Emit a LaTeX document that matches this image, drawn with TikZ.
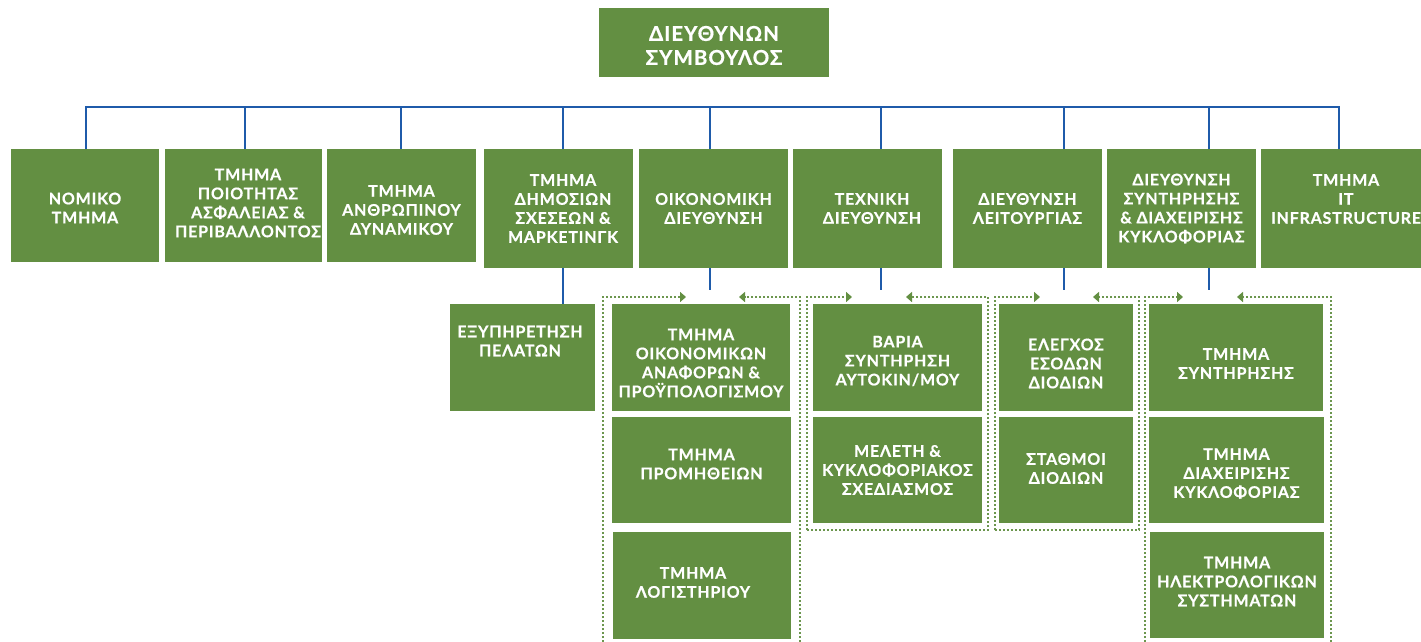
\documentclass[tikz,border=0pt]{standalone}
\usepackage{fontspec}
\setmainfont{Lato}[LetterSpace=5, BoldFeatures={FakeBold=0.6}]
\usetikzlibrary{arrows.meta}
\definecolor{boxgreen}{RGB}{99,143,66}
\definecolor{dotgreen}{RGB}{108,150,78}
\definecolor{lineblue}{RGB}{31,91,170}
% name, x1, y1, x2, y2, dx, dy, text
\newcommand\gbx[8]{%
  \node[gbox, minimum width={(#4-#2)*1pt}, minimum height={(#5-#3)*1pt}] (#1) at ({(#2+#4)/2},{(#3+#5)/2}) {};
  \node[gtxt] at ([xshift={(#6)*1pt}, yshift={(#7)*(-1pt)}]#1.center) {#8};}
\tikzset{
  gbox/.style={fill=boxgreen, draw=none, inner sep=0pt, outer sep=0pt},
  gtxt/.style={text=white, align=center, inner sep=0pt, font=\bfseries\fontsize{16}{19}\selectfont},
  bigtxt/.style={gtxt, font=\bfseries\fontsize{20.5}{24}\selectfont},
  conn/.style={draw=lineblue, line width=2pt},
  dotline/.style={draw=dotgreen, line width=2pt, dash pattern=on 2pt off 2pt},
  dotarrow/.style={dotline, -{Triangle[length=6pt,width=10pt,fill=boxgreen,color=boxgreen]}},
}
\begin{document}
\begin{tikzpicture}[x=1pt,y=-1pt]
\useasboundingbox (0,0) rectangle (1421,642);
\fill[white] (0,0) rectangle (1421,642);

% CEO
\node[gbox, minimum width=230pt, minimum height=69pt] (ceo) at (714,42.5) {};
\node[bigtxt] at ([yshift=-3pt]ceo.center) {ΔΙΕΥΘΥΝΩΝ\\ΣΥΜΒΟΥΛΟΣ};

% Row 1
\gbx{b1}{11}{149}{159}{262}{0}{2.5}{ΝΟΜΙΚΟ\\ΤΜΗΜΑ}
\gbx{b2}{165}{149}{322}{262}{4.5}{-2.5}{ΤΜΗΜΑ\\ΠΟΙΟΤΗΤΑΣ\\ΑΣΦΑΛΕΙΑΣ \&\\ΠΕΡΙΒΑΛΛΟΝΤΟΣ}
\gbx{b3}{327}{149}{476}{262}{0}{4.5}{ΤΜΗΜΑ\\ΑΝΘΡΩΠΙΝΟΥ\\ΔΥΝΑΜΙΚΟΥ}
\gbx{b4}{484}{149}{633}{268}{4.5}{0}{ΤΜΗΜΑ\\ΔΗΜΟΣΙΩΝ\\ΣΧΕΣΕΩΝ \&\\ΜΑΡΚΕΤΙΝΓΚ}
\gbx{b5}{639}{149}{788}{268}{0}{0}{ΟΙΚΟΝΟΜΙΚΗ\\ΔΙΕΥΘΥΝΣΗ}
\gbx{b6}{793}{149}{942}{268}{4.5}{0}{ΤΕΧΝΙΚΗ\\ΔΙΕΥΘΥΝΣΗ}
\gbx{b7}{953}{149}{1102}{268}{0}{0}{ΔΙΕΥΘΥΝΣΗ\\ΛΕΙΤΟΥΡΓΙΑΣ}
\gbx{b8}{1107}{149}{1256}{268}{0}{0}{ΔΙΕΥΘΥΝΣΗ\\ΣΥΝΤΗΡΗΣΗΣ\\\& ΔΙΑΧΕΙΡΙΣΗΣ\\ΚΥΚΛΟΦΟΡΙΑΣ}
\gbx{b9}{1261}{149}{1431}{268}{0}{-9.5}{ΤΜΗΜΑ\\IT\\INFRASTRUCTURE}

% Row 2
\gbx{exy}{450}{304}{595}{411}{-2.5}{-16.5}{ΕΞΥΠΗΡΕΤΗΣΗ\\ΠΕΛΑΤΩΝ}
\gbx{f1}{612}{304}{790}{411}{0}{5.5}{ΤΜΗΜΑ\\ΟΙΚΟΝΟΜΙΚΩΝ\\ΑΝΑΦΟΡΩΝ \&\\ΠΡΟΫΠΟΛΟΓΙΣΜΟΥ}
\gbx{f2}{612}{417}{791}{523}{0}{-6}{ΤΜΗΜΑ\\ΠΡΟΜΗΘΕΙΩΝ}
\gbx{f3}{613}{532}{791}{639}{-9}{-3}{ΤΜΗΜΑ\\ΛΟΓΙΣΤΗΡΙΟΥ}
\gbx{t1}{813}{304}{982}{411}{0}{3.5}{ΒΑΡΙΑ\\ΣΥΝΤΗΡΗΣΗ\\ΑΥΤΟΚΙΝ/ΜΟΥ}
\gbx{t2}{813}{417}{982}{523}{0}{0}{ΜΕΛΕΤΗ \&\\ΚΥΚΛΟΦΟΡΙΑΚΟΣ\\ΣΧΕΔΙΑΣΜΟΣ}
\gbx{l1}{999}{304}{1133}{411}{0}{6}{ΕΛΕΓΧΟΣ\\ΕΣΟΔΩΝ\\ΔΙΟΔΙΩΝ}
\gbx{l2}{999}{417}{1133}{523}{0}{-1.5}{ΣΤΑΘΜΟΙ\\ΔΙΟΔΙΩΝ}
\gbx{s1}{1149}{304}{1323}{411}{0}{6}{ΤΜΗΜΑ\\ΣΥΝΤΗΡΗΣΗΣ}
\gbx{s2}{1149}{417}{1324}{523}{0}{3.5}{ΤΜΗΜΑ\\ΔΙΑΧΕΙΡΙΣΗΣ\\ΚΥΚΛΟΦΟΡΙΑΣ}
\gbx{s3}{1150}{532}{1324}{638}{0}{-3.5}{ΤΜΗΜΑ\\ΗΛΕΚΤΡΟΛΟΓΙΚΩΝ\\ΣΥΣΤΗΜΑΤΩΝ}

% Blue connectors
\coordinate (bar) at (0,107);
\coordinate (p1) at ([xshift=1pt]b1.north);
\coordinate (p2) at ([xshift=1.5pt]b2.north);
\coordinate (p3) at ([xshift=-0.5pt]b3.north);
\coordinate (p4) at ([xshift=4.5pt]b4.north);
\coordinate (p5) at ([xshift=-3.5pt]b5.north);
\coordinate (p6) at ([xshift=13.5pt]b6.north);
\coordinate (p7) at ([xshift=36.5pt]b7.north);
\coordinate (p8) at ([xshift=27.5pt]b8.north);
\coordinate (p9) at ([xshift=-7pt]b9.north);
\draw[conn, line cap=rect] (p1 |- bar) -- (p9 |- bar);
\foreach \p in {p1,p2,p3,p4,p5,p6,p7,p8,p9} {\draw[conn] (\p) -- (\p |- bar);}
\draw[conn] (p4 |- b4.south) -- (p4 |- exy.north);
\coordinate (e5) at (p5 |- 0,290);
\coordinate (e6) at (p6 |- 0,290);
\coordinate (e7) at (p7 |- 0,290);
\coordinate (e8) at (p8 |- 0,290);
\draw[conn] (p5 |- b5.south) -- (e5);
\draw[conn] (p6 |- b6.south) -- (e6);
\draw[conn] (p7 |- b7.south) -- (e7);
\draw[conn] (p8 |- b8.south) -- (e8);

% Dotted group frames
% group 1
\draw[dotarrow] (603,650) -- (603,297) -- (686,297);
\draw[dotarrow] (800,650) -- (800,297) -- (739,297);
% group 2
\draw[dotarrow] (807,530) -- (807,297) -- (852,297);
\draw[dotarrow] (807,530) -- (988,530) -- (988,297) -- (906,297);
% group 3
\draw[dotarrow] (995,530) -- (995,297) -- (1040,297);
\draw[dotarrow] (995,530) -- (1139,530) -- (1139,297) -- (1093,297);
% group 4
\draw[dotarrow] (1145,650) -- (1145,297) -- (1183,297);
\draw[dotarrow] (1331,650) -- (1331,297) -- (1237,297);
\end{tikzpicture}
\end{document}
